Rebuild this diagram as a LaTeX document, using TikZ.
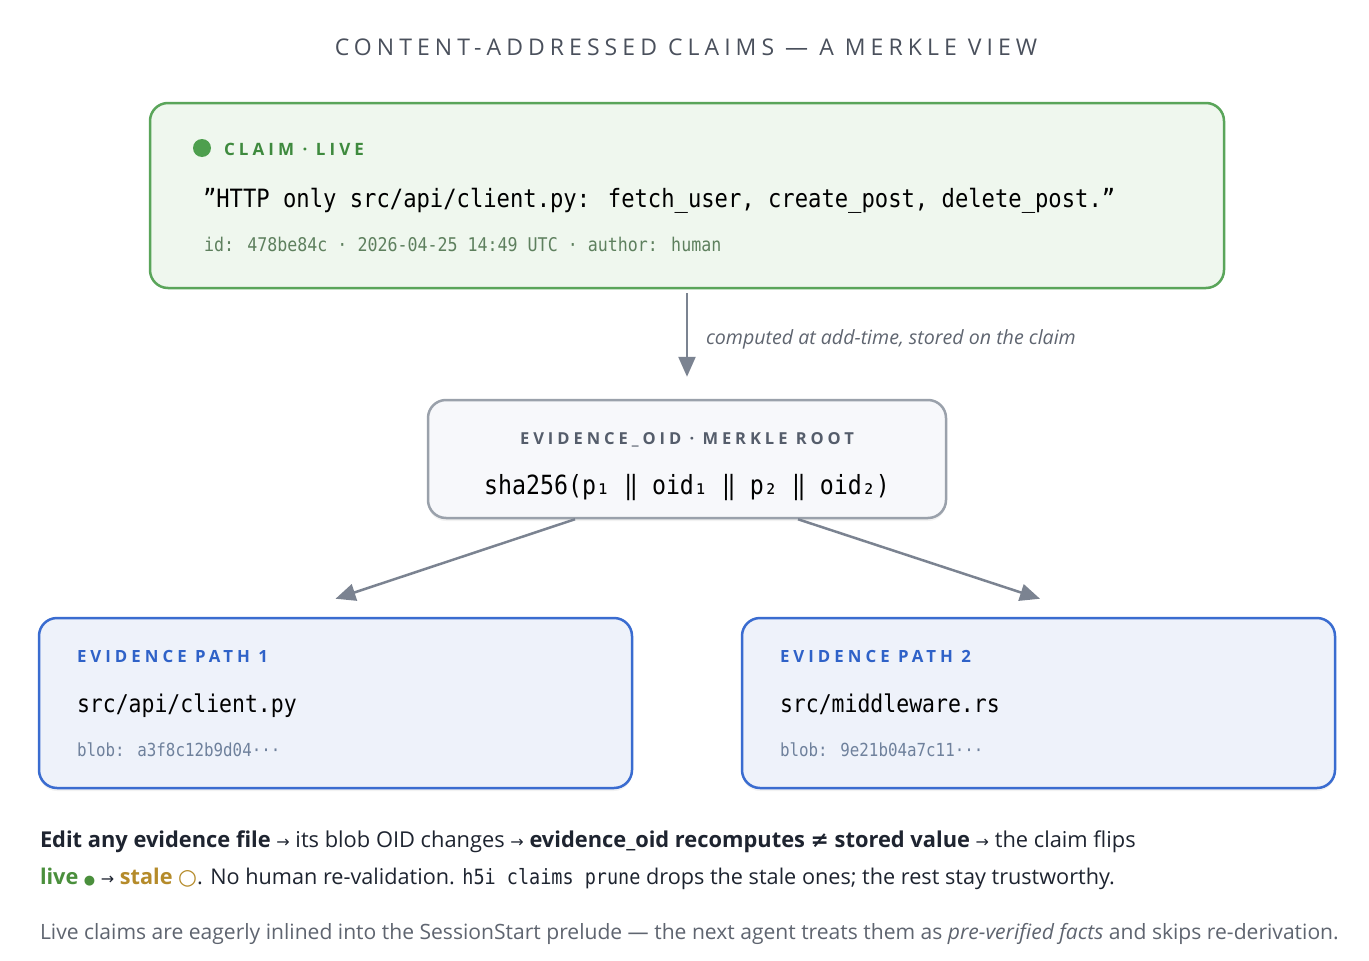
\documentclass[tikz,border=0pt]{standalone}
\usepackage{fontspec}
\setmainfont{Open Sans}
\newfontfamily\codefont[FakeStretch=0.88]{DejaVu Sans Mono}
\newfontfamily\symfont{DejaVu Sans}
\newfontfamily\tagfont[LetterSpace=24]{Open Sans}
\newfontfamily\titlefont[LetterSpace=22]{Open Sans}
\usetikzlibrary{arrows.meta,shadows}

\definecolor{titlegray}{HTML}{4A505C}
\definecolor{claimline}{HTML}{5AA55A}
\definecolor{claimfill}{HTML}{EFF7EE}
\definecolor{claimdot}{HTML}{4E9F4E}
\definecolor{claimtag}{HTML}{3E8A3E}
\definecolor{claimmeta}{HTML}{5E805E}
\definecolor{rootline}{HTML}{9AA1AB}
\definecolor{rootfill}{HTML}{F7F8FB}
\definecolor{roottag}{HTML}{555D6B}
\definecolor{pathline}{HTML}{3A6CD0}
\definecolor{pathfill}{HTML}{EEF2FA}
\definecolor{pathtag}{HTML}{2F62C8}
\definecolor{blobgray}{HTML}{6F819C}
\definecolor{flowgray}{HTML}{7B8391}
\definecolor{inkdark}{HTML}{1E2430}
\definecolor{notegray}{HTML}{5F6570}
\definecolor{livegreen}{HTML}{4A8F3C}
\definecolor{stalegold}{HTML}{B58B2A}

\newcommand{\sz}[1]{\fontsize{#1pt}{#1pt}\selectfont}
\newcommand{\arr}{{\symfont\sz{16}→}}

\tikzset{
  card/.style={draw, line width=2.5pt, rounded corners=18pt, inner sep=0pt},
  claimcard/.style={card, draw=claimline, fill=claimfill,
    minimum width=1074pt, minimum height=185pt},
  rootcard/.style={card, draw=rootline, fill=rootfill,
    minimum width=518pt, minimum height=118pt,
    drop shadow={opacity=0.10, shadow xshift=0pt, shadow yshift=-3pt}},
  pathcard/.style={card, draw=pathline, fill=pathfill,
    minimum width=593pt, minimum height=170pt,
    drop shadow={opacity=0.10, shadow xshift=0pt, shadow yshift=-3pt}},
  txt/.style={anchor=base west, inner sep=0pt, outer sep=0pt},
  ctxt/.style={anchor=base, inner sep=0pt, outer sep=0pt},
  flow/.style={draw=flowgray, line width=2.5pt,
    -{Triangle[length=20pt,width=17pt]}},
}

\begin{document}
\begin{tikzpicture}[x=1pt,y=-1pt]
  \fill[white] (0,0) rectangle (1369,961);
  \useasboundingbox (0,0) rectangle (1369,961);

  % title
  \node[ctxt, text=titlegray] (title) at (686,55)
    {\titlefont\sz{23}CONTENT-ADDRESSED CLAIMS — A MERKLE VIEW};

  % the claim
  \node[claimcard] (claim) at (687,195.5) {};
  \fill[claimdot] (202,148) circle (9);
  \node[txt, text=claimtag] (claimtag) at (224,155)
    {\tagfont\bfseries\sz{17}CLAIM · LIVE};
  \node[txt, text=black] (claimtext) at (203,207)
    {\codefont\sz{25.2}”HTTP only src/api/client.py: fetch\_user, create\_post, delete\_post.”};
  \node[txt, text=claimmeta] (claimmeta) at (204,251)
    {\codefont\sz{18.9}id: 478be84c · 2026-04-25 14:49 UTC · author: human};

  % merkle root
  \node[rootcard] (root) at (687,459) {};
  \node[ctxt, text=roottag] (roottag) at (687,444)
    {\tagfont\bfseries\sz{16.5}EVIDENCE\_OID · MERKLE ROOT};
  \node[ctxt, text=black] (rootsum) at (687,494)
    {\codefont\sz{26.4}sha256(p₁ ‖ oid₁ ‖ p₂ ‖ oid₂)};

  % evidence paths
  \node[pathcard] (pathA) at (335.5,703) {};
  \node[txt, text=pathtag] (pathAtag) at (77,662)
    {\tagfont\bfseries\sz{16.8}EVIDENCE PATH 1};
  \node[txt, text=black] (pathAfile) at (77,712)
    {\codefont\sz{24.4}src/api/client.py};
  \node[txt, text=blobgray] (pathAblob) at (77,756)
    {\codefont\sz{18}blob: a3f8c12b9d04···};

  \node[pathcard] (pathB) at (1038.5,703) {};
  \node[txt, text=pathtag] (pathBtag) at (780,662)
    {\tagfont\bfseries\sz{16.8}EVIDENCE PATH 2};
  \node[txt, text=black] (pathBfile) at (780,712)
    {\codefont\sz{24.4}src/middleware.rs};
  \node[txt, text=blobgray] (pathBblob) at (780,756)
    {\codefont\sz{18}blob: 9e21b04a7c11···};

  % connectors
  \draw[flow, shorten <=4pt, shorten >=22pt] (claim.south) -- (root.north);
  \node[txt, text=notegray] (addtime) at (706,344)
    {\itshape\sz{19.6}computed at add-time, stored on the claim};
  \draw[flow] ([xshift=-112pt]root.south) -- ([yshift=18pt]pathA.north);
  \draw[flow] ([xshift=111pt]root.south) -- ([xshift=1.5pt,yshift=18pt]pathB.north);

  % notes below
  \node[txt, text=inkdark] (noteA) at (40,847)
    {\sz{21.85}\textbf{Edit any evidence file} \arr{} its blob OID changes \arr{}
     \textbf{evidence\_oid recomputes {\symfont≠} stored value} \arr{} the claim flips};
  \node[txt, text=inkdark] (noteB) at (40,884)
    {\sz{21.65}{\color{livegreen}\textbf{live} {\symfont\sz{13}●}} \arr{}
     {\color{stalegold}\textbf{stale} {\symfont○}}. No human re-validation.
     {\codefont\sz{21}h5i claims prune} drops the stale ones; the rest stay trustworthy.};
  \node[txt, text=notegray] (noteC) at (40,939)
    {\sz{21.08}Live claims are eagerly inlined into the SessionStart prelude — the next
     agent treats them as \textit{pre-verified facts} and skips re-derivation.};
\end{tikzpicture}
\end{document}
